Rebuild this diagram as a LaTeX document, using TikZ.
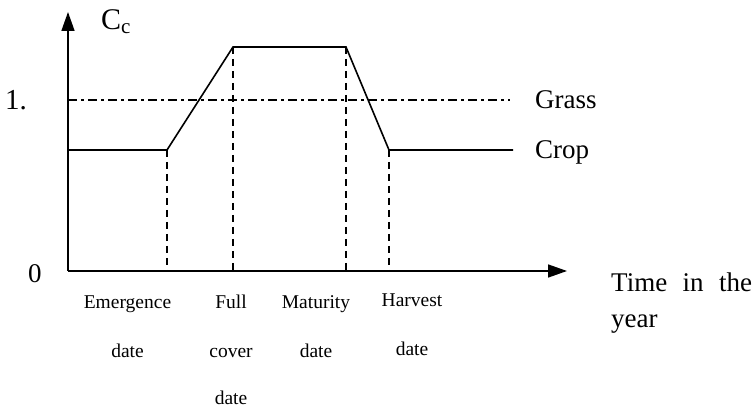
\documentclass[tikz,border=0pt]{standalone}
\usepackage{fontspec}
\setmainfont{Liberation Serif}
\usetikzlibrary{arrows.meta}
\begin{document}
\begin{tikzpicture}[x=1pt,y=-1pt,
  axis/.style={line width=1.6pt,-{Triangle[length=19pt,width=13pt]}},
  cropline/.style={line width=1.6pt,line join=miter},
  grassline/.style={line width=1.4pt,dash pattern=on 9pt off 4pt on 3pt off 4pt},
  dateline/.style={line width=1.4pt,dash pattern=on 7pt off 5pt},
  big/.style={font=\fontsize{27}{32}\selectfont,inner sep=0pt,anchor=base west},
  small/.style={font=\fontsize{19.5}{23}\selectfont,inner sep=0pt,anchor=base}]
\useasboundingbox (0,0) rectangle (753,411);
% coordinates
\coordinate (O) at (68,271);
\coordinate (ytip) at (68,12);
\coordinate (xtip) at (567,271);
\coordinate (c0) at (68,150);
\coordinate (c1) at (167,150);
\coordinate (c2) at (233,47);
\coordinate (c3) at (346,47);
\coordinate (c4) at (389,150);
\coordinate (c5) at (513,150);
\coordinate (g0) at (68,100);
\coordinate (g1) at (510,100);
\coordinate (b1) at (167,271);
\coordinate (b2) at (233,271);
\coordinate (b3) at (346,271);
\coordinate (b4) at (389,271);
% axes
\draw[axis] (O) -- (ytip);
\draw[axis] (O) -- (xtip);
% grass
\draw[grassline] (g0) -- (g1);
% date lines
\draw[dateline] (c1) -- (b1);
\draw[dateline] (c2) -- (b2);
\draw[dateline] (c3) -- (b3);
\draw[dateline] (c4) -- (b4);
% crop
\draw[cropline] (c0) -- (c1) -- (c2) -- (c3) -- (c4) -- (c5);
% labels
\node[big,font=\fontsize{30}{34}\selectfont] (cc) at (101,30) {C\textsubscript{c}};
\node[big,font=\fontsize{29}{34}\selectfont] (one) at (5,110) {1.};
\node[big] (zero) at (28,283) {0};
\node[big] (grass) at (535,109) {Grass};
\node[big] (crop) at (535,159) {Crop};
\node[big] (time) at (611,292) {\makebox[141pt][s]{Time in the}};
\node[big] (year) at (611,328) {year};
\node[small] (em1) at (127.5,309) {Emergence};
\node[small] (em2) at (127.5,358) {date};
\node[small] (fc1) at (231,309) {Full};
\node[small] (fc2) at (231,358) {cover};
\node[small] (fc3) at (231,405) {date};
\node[small] (ma1) at (316,309) {Maturity};
\node[small] (ma2) at (316,358) {date};
\node[small] (ha1) at (412,307) {Harvest};
\node[small] (ha2) at (412,356) {date};
\end{tikzpicture}
\end{document}
